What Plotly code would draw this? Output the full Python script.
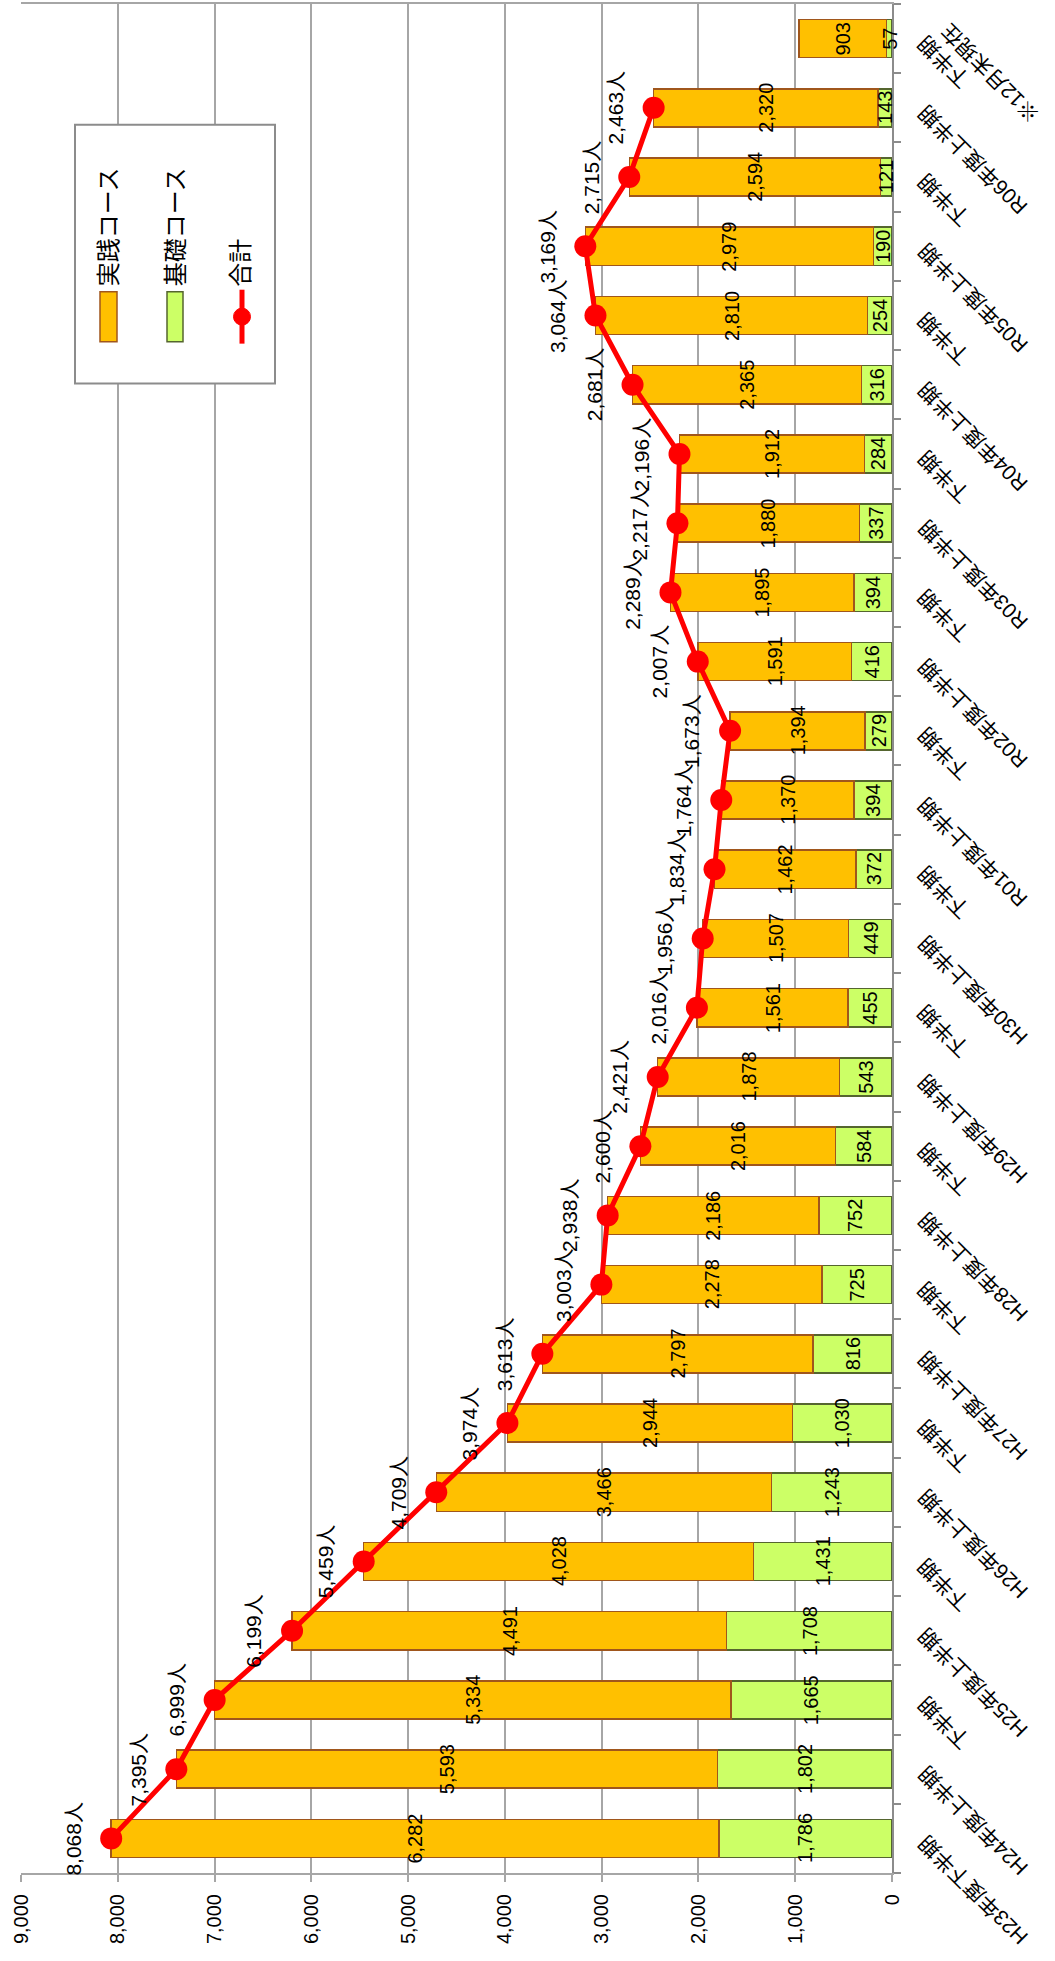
import plotly.graph_objects as go

# ---- data (bottom -> top in the picture) ----
categories = ["H23下", "H24上", "H24下", "H25上", "H25下", "H26上", "H26下", "H27上", "H27下",
              "H28上", "H28下", "H29上", "H29下", "H30上", "H30下", "R01上", "R01下", "R02上",
              "R02下", "R03上", "R03下", "R04上", "R04下", "R05上", "R05下", "R06上", "R06下"]
tick_labels = ["H23年度下半期", "H24年度上半期", "下半期", "H25年度上半期", "下半期",
               "H26年度上半期", "下半期", "H27年度上半期", "下半期", "H28年度上半期", "下半期",
               "H29年度上半期", "下半期", "H30年度上半期", "下半期", "R01年度上半期", "下半期",
               "R02年度上半期", "下半期", "R03年度上半期", "下半期", "R04年度上半期", "下半期",
               "R05年度上半期", "下半期", "R06年度上半期", "下半期"]
note_label = "※12月末現在"
basic = [1786, 1802, 1665, 1708, 1431, 1243, 1030, 816, 725, 752, 584, 543, 455, 449,
         372, 394, 279, 416, 394, 337, 284, 316, 254, 190, 121, 143, 57]
practice = [6282, 5593, 5334, 4491, 4028, 3466, 2944, 2797, 2278, 2186, 2016, 1878, 1561,
            1507, 1462, 1370, 1394, 1591, 1895, 1880, 1912, 2365, 2810, 2979, 2594, 2320, 903]
totals = [8068, 7395, 6999, 6199, 5459, 4709, 3974, 3613, 3003, 2938, 2600, 2421, 2016,
          1956, 1834, 1764, 1673, 2007, 2289, 2217, 2196, 2681, 3064, 3169, 2715, 2463]
x_ticks = [0, 1000, 2000, 3000, 4000, 5000, 6000, 7000, 8000, 9000]
names = ["実践コース", "基礎コース", "合計"]

FONT = "Liberation Sans, Noto Sans CJK JP, sans-serif"
ORANGE, ORANGE_LINE = "#FFC000", "#A0561C"
GREEN, GREEN_LINE = "#CCFF66", "#55652F"
RED = "#FF0000"
GRID = "#A6A6A6"

W, H = 1055, 1961
L, R, T, B = 21, 163, 2, 88
PW, PH = W - L - R, H - T - B


def px(xp):
    return (xp - L) / PW


def py(yp):
    return (T + PH - yp) / PH


fig = go.Figure()
fig.add_trace(go.Bar(
    y=categories, x=basic, orientation="h", name=names[1],
    marker=dict(color=GREEN, line=dict(color=GREEN_LINE, width=1.5)), showlegend=False))
fig.add_trace(go.Bar(
    y=categories, x=practice, orientation="h", name=names[0],
    marker=dict(color=ORANGE, line=dict(color=ORANGE_LINE, width=1.5)), showlegend=False))
fig.add_trace(go.Scatter(
    y=categories[:len(totals)], x=totals, mode="lines+markers", name=names[2],
    line=dict(color=RED, width=5), marker=dict(color=RED, size=22), showlegend=False))

annotations = []
# segment labels (centred in each stacked segment)
for c, b, p in zip(categories, basic, practice):
    annotations.append(dict(x=b / 2, y=c, xref="x", yref="y", text=f"{b:,}", showarrow=False,
                            textangle=-90, xanchor="center", yanchor="middle",
                            font=dict(family=FONT, size=20, color="black")))
    annotations.append(dict(x=b + p / 2, y=c, xref="x", yref="y", text=f"{p:,}", showarrow=False,
                            textangle=-90, xanchor="center", yanchor="middle",
                            font=dict(family=FONT, size=20, color="black")))
for c, t in zip(categories, totals):
    annotations.append(dict(x=t, y=c, xref="x", yref="y", text=f"{t:,}人", showarrow=False,
                            textangle=-90, xanchor="center", yanchor="middle", xshift=-38,
                            font=dict(family=FONT, size=21, color="black")))
for c, lab in zip(categories, tick_labels):
    annotations.append(dict(x=px(911), y=c, xref="paper", yref="y", text=lab, showarrow=False,
                            textangle=-135, xanchor="left", yanchor="top", yshift=10,
                            font=dict(family=FONT, size=21, color="black")))
annotations.append(dict(x=px(934), y=categories[-1], xref="paper", yref="y", text=note_label,
                        showarrow=False, textangle=-135, xanchor="left", yanchor="top",
                        yshift=22, font=dict(family=FONT, size=21, color="black")))

# legend (rotated, drawn by hand)
shapes = [
    dict(type="rect", xref="paper", yref="paper", x0=px(75), x1=px(275), y0=py(382), y1=py(123),
         line=dict(color="#8C8C8C", width=2), fillcolor="white", layer="above"),
    dict(type="rect", xref="paper", yref="paper", x0=px(100), x1=px(117), y0=py(340), y1=py(290),
         line=dict(color=ORANGE_LINE, width=1.5), fillcolor=ORANGE, layer="above"),
    dict(type="rect", xref="paper", yref="paper", x0=px(167), x1=px(183), y0=py(340), y1=py(290),
         line=dict(color=GREEN_LINE, width=1.5), fillcolor=GREEN, layer="above"),
    dict(type="line", xref="paper", yref="paper", x0=px(242), x1=px(242), y0=py(342), y1=py(288),
         line=dict(color=RED, width=5), layer="above"),
    dict(type="circle", xref="paper", yref="paper", x0=px(233.5), x1=px(250.5), y0=py(323.5),
         y1=py(306.5), line=dict(color=RED, width=1), fillcolor=RED, layer="above"),
]
for xc, name in zip([108, 175, 241], names):
    annotations.append(dict(x=px(xc), y=py(287), xref="paper", yref="paper", text=name,
                            showarrow=False, textangle=-90, xanchor="center", yanchor="bottom",
                            font=dict(family=FONT, size=24, color="black")))

fig.update_layout(
    width=W, height=H, margin=dict(l=L, r=R, t=T, b=B),
    paper_bgcolor="white", plot_bgcolor="white",
    barmode="stack", bargap=0.45,
    font=dict(family=FONT, size=20, color="black"),
    annotations=annotations, shapes=shapes, showlegend=False,
    xaxis=dict(range=[9000, 0], tickvals=x_ticks, tickformat=",", tickangle=-90,
               showgrid=True, gridcolor=GRID, gridwidth=2, zeroline=False,
               showline=True, mirror=True, linecolor=GRID, linewidth=2,
               ticks="outside", ticklen=7, tickwidth=2, tickcolor=GRID,
               ticklabelstandoff=4,
               tickfont=dict(family=FONT, size=20, color="black")),
    yaxis=dict(type="category", categoryorder="array", categoryarray=categories,
               side="right", showticklabels=False, showgrid=False, zeroline=False,
               showline=True, linecolor="#8C8C8C", linewidth=2,
               ticks="outside", ticklen=7, tickwidth=2, tickcolor="#8C8C8C",
               tickson="boundaries", range=[-0.5, len(categories) - 0.5]),
)

fig.write_html("out.html")
